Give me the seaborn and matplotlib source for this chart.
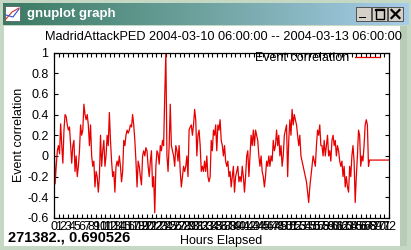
import numpy as np
import pandas as pd
import matplotlib
matplotlib.use("Agg")
import matplotlib.pyplot as plt
from matplotlib.patches import Rectangle
from matplotlib.lines import Line2D
import seaborn as sns

# ---------------- data ----------------
title_text = "MadridAttackPED 2004-03-10 06:00:00 -- 2004-03-13 06:00:00"
series_label = "Event correlation"
x_label = "Hours Elapsed"
y_label = "Event correlation"
status_text = "271382., 0.690526"
window_title = "gnuplot graph"

sample_step_hours = 0.238

corr_h00_14 = [0.2, -0.27, -0.1, 0.05, 0.1, 0.02,
               0.31, 0.1, -0.07, 0.25, 0.40, 0.38, 0.3, 0.25, 0.28,
               0.1, -0.07, 0.1, 0.15, -0.15, 0.0, -0.2, -0.1, 0.05,
               0.3, 0.2, 0.25, 0.5, 0.4, 0.35, 0.4, 0.3, 0.1,
               0.3, 0.0, -0.1, -0.05, -0.3, -0.15, -0.2, -0.35, -0.2,
               0.2, -0.1, 0.05, 0.15, -0.1, 0.0, 0.2, 0.1, 0.42,
               0.15, -0.05, -0.2, -0.15, -0.35, -0.1, -0.05, -0.1, 0.0]
corr_h14_29 = [-0.1, -0.25, -0.15, 0.15, 0.1, 0.2, 0.25, 0.22, 0.25,
               0.3, 0.28, 0.4, 0.3, 0.15, -0.05, -0.3, -0.05, -0.1,
               -0.2, -0.28, 0.0, 0.05, 0.0, 0.08, 0.05, -0.1, -0.2,
               -0.05, 0.05, -0.3, -0.2, -0.55, -0.1, 0.05, 0.02, -0.08,
               0.1, 0.05, 0.15, 0.1, 0.58, 1.0, 0.0, -0.15, 0.1,
               0.5, 0.1, 0.05, 0.0, -0.1, 0.1, 0.05, -0.05, 0.1,
               -0.15, -0.3, -0.2, -0.1, -0.15, -0.1]
corr_h29_43 = [0.0, -0.2, 0.25, 0.28, 0.3, 0.2, 0.3, 0.45, 0.35,
               0.0, 0.2, 0.25, 0.1, -0.15, -0.1, -0.15, -0.05, -0.15,
               0.0, -0.2, -0.25, -0.2, 0.15, 0.05, 0.25, 0.2, 0.3,
               0.05, 0.3, 0.25, 0.35, 0.15, 0.1, 0.0, 0.1, -0.05,
               -0.1, -0.05, -0.2, -0.15, -0.3, -0.2, -0.1, -0.35, -0.2,
               -0.15, -0.1, -0.25, -0.2, -0.25, -0.1, -0.2, -0.35, -0.2,
               0.0, 0.05, -0.2, 0.0, 0.2, 0.1]
corr_h43_58 = [0.25, 0.1, 0.25, 0.2, 0.15, 0.0, -0.1, 0.0, -0.15,
               -0.2, -0.3, -0.2, -0.05, -0.1, 0.0, -0.1, 0.0, -0.05,
               0.15, 0.05, 0.1, 0.25, 0.1, 0.2, 0.0, 0.1, -0.1,
               0.0, 0.2, 0.25, 0.3, -0.2, 0.15, 0.35, 0.2, 0.45,
               0.3, 0.4, 0.35, 0.3, 0.2, 0.1, 0.2, 0.0, -0.05,
               -0.1, -0.15, -0.2, -0.25, -0.35, -0.45, -0.3, -0.2, -0.1,
               0.0, -0.05, -0.1, 0.1, 0.25, 0.2, 0.3, 0.1]
corr_h58_68 = [0.1, 0.0, 0.15, 0.0, 0.1, 0.2, 0.0, 0.05, -0.05,
               0.15, 0.2, 0.1, 0.15, 0.0, 0.1, 0.05, -0.05, -0.1,
               -0.05, -0.2, -0.1, -0.3, -0.2, -0.3, -0.35, -0.1, -0.2,
               0.0, 0.1, -0.05, -0.45, -0.2, 0.0, 0.25, 0.2,
               -0.1, 0.0, -0.05, 0.1, 0.3, 0.35, 0.3, -0.1]
flat_tail_hours = [67.8, 72.0]
flat_tail_values = [-0.04, -0.04]

y_ticks = [-0.6, -0.4, -0.2, 0, 0.2, 0.4, 0.6, 0.8, 1]
y_tick_labels = ["-0.6", "-0.4", "-0.2", "0", "0.2", "0.4", "0.6", "0.8", "1"]
x_ticks = list(range(0, 73))

values = corr_h00_14 + corr_h14_29 + corr_h29_43 + corr_h43_58 + corr_h58_68
hours = list(np.arange(len(values)) * sample_step_hours)
df = pd.DataFrame({"hours": hours + flat_tail_hours,
                   "corr": values + flat_tail_values})

# ---------------- figure / window chrome ----------------
plt.rcParams["font.family"] = ["Liberation Sans", "DejaVu Sans"]
W, H = 411, 250
fig = plt.figure(figsize=(W / 100, H / 100), dpi=100)
fig.patch.set_facecolor("#c4d8c4")


def fx(x):
    return x / W


def fy(y):
    return 1 - y / H


def rect(x0, y0, x1, y1, z=1, **kw):
    fig.add_artist(Rectangle((fx(x0), fy(y1)), (x1 - x0) / W, (y1 - y0) / H,
                             transform=fig.transFigure, zorder=z, **kw))


# title bar gradient
tb = fig.add_axes([fx(3), fy(25), fx(405), 22 / H])
grad = np.linspace(0, 1, 256)[None, :]
cmap = matplotlib.colors.LinearSegmentedColormap.from_list(
    "tb", ["#3a7a62", "#6fa3a0", "#a8cdea"])
tb.imshow(grad, aspect="auto", cmap=cmap, extent=[0, 1, 0, 1])
tb.set_axis_off()

# white client area (behind the plot axes)
rect(4, 26, 400, 246, z=-5, facecolor="white", edgecolor="none")
rect(400, 26, 407, 246, z=-5, facecolor="#b8ccb8", edgecolor="none")

# icon
rect(5, 6, 20, 21, facecolor="white", edgecolor="#606060", linewidth=0.6)
fig.add_artist(Line2D([fx(6), fx(12), fx(19)], [fy(19), fy(12), fy(8)],
                      transform=fig.transFigure, color="#d03030", lw=0.8))
fig.add_artist(Line2D([fx(6), fx(13), fx(19)], [fy(15), fy(17), fy(9)],
                      transform=fig.transFigure, color="#3050d0", lw=0.8))
fig.text(fx(27), fy(14), window_title, color="white", fontsize=9.5,
         fontweight="bold", ha="left", va="center")

# buttons
for bx in (356, 372, 388):
    rect(bx, 7, bx + 15, 21, facecolor="#d4d0c8", edgecolor="#404040",
         linewidth=0.6)
rect(359, 16.5, 366, 18, facecolor="black", edgecolor="none")
rect(375.5, 9.5, 383.5, 18.5, facecolor="none", edgecolor="black",
     linewidth=1.0)
fig.add_artist(Line2D([fx(375.5), fx(383.5)], [fy(10.3), fy(10.3)],
                      transform=fig.transFigure, color="black", lw=1.6))
fig.add_artist(Line2D([fx(391.5), fx(399.5)], [fy(10), fy(18)],
                      transform=fig.transFigure, color="black", lw=1.6))
fig.add_artist(Line2D([fx(391.5), fx(399.5)], [fy(18), fy(10)],
                      transform=fig.transFigure, color="black", lw=1.6))

# ---------------- plot ----------------
ax = fig.add_axes([fx(54), fy(218), (389 - 54) / W, (218 - 52.5) / H])
ax.set_facecolor("white")
sns.lineplot(data=df, x="hours", y="corr", ax=ax, color="#e60000",
             linewidth=0.9, legend=False, sort=False)

ax.set_xlim(0, 72)
ax.set_ylim(-0.6, 1)
ax.set_xticks(x_ticks)
ax.set_xticklabels([str(t) for t in x_ticks])
ax.set_yticks(y_ticks)
ax.set_yticklabels(y_tick_labels)
ax.tick_params(direction="in", length=3, width=0.8, top=True, right=True,
               labelsize=9, colors="black")
ax.tick_params(axis="x", pad=2)
ax.tick_params(axis="y", pad=4)
for s in ax.spines.values():
    s.set_linewidth(0.9)
    s.set_color("black")
ax.set_xlabel("")
ax.set_ylabel("")

handle = Line2D([], [], color="#e60000", lw=0.9)
ax.legend([handle], [series_label], loc="center right",
          bbox_to_anchor=(fx(380), fy(58)), bbox_transform=fig.transFigure,
          frameon=False, markerfirst=False, fontsize=9, handlelength=2.0,
          handletextpad=0.5, borderpad=0, borderaxespad=0)

fig.text(fx(223), fy(37), title_text, fontsize=9.2, ha="center", va="center")
fig.text(fx(19), fy(135), y_label, fontsize=9, ha="center", va="center",
         rotation=90)
fig.text(fx(221), fy(241), x_label, fontsize=9, ha="center", va="center")
fig.text(fx(8), fy(238), status_text, fontsize=10.5, fontweight="bold",
         ha="left", va="center")

fig.savefig("out.png", dpi=100, facecolor=fig.get_facecolor())
